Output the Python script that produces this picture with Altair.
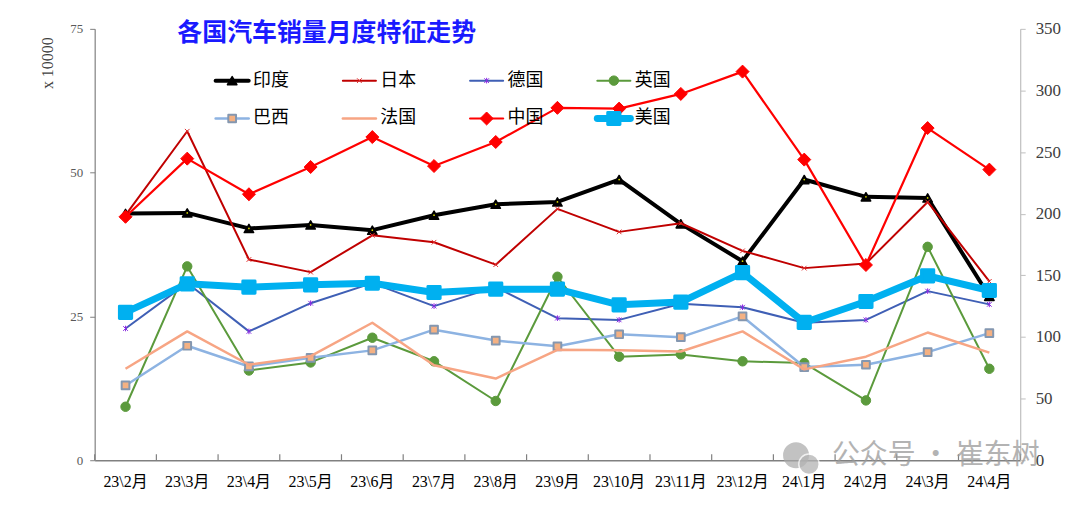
import altair as alt
import pandas as pd

months = ["23\\2月", "23\\3月", "23\\4月", "23\\5月", "23\\6月", "23\\7月", "23\\8月",
          "23\\9月", "23\\10月", "23\\11月", "23\\12月", "24\\1月", "24\\2月", "24\\3月", "24\\4月"]

india   = [42.9, 43.0, 40.3, 40.9, 40.0, 42.6, 44.5, 44.9, 48.8, 41.1, 34.6, 48.8, 45.8, 45.6, 28.5]
japan   = [42.6, 57.2, 34.9, 32.7, 39.1, 37.9, 34.0, 43.7, 39.7, 41.2, 36.4, 33.4, 34.2, 44.9, 31.1]
germany = [22.9, 30.8, 22.4, 27.3, 30.8, 26.8, 30.1, 24.7, 24.4, 27.2, 26.6, 23.9, 24.4, 29.4, 27.1]
uk      = [9.3, 33.7, 15.6, 17.0, 21.3, 17.2, 10.3, 31.9, 18.0, 18.4, 17.2, 16.9, 10.4, 37.1, 15.9]
brazil  = [13.0, 19.9, 16.3, 17.8, 19.1, 22.7, 20.8, 19.8, 21.9, 21.4, 25.0, 16.2, 16.6, 18.8, 22.1]
france  = [15.9, 22.4, 16.6, 18.1, 23.9, 16.5, 14.2, 19.2, 19.1, 18.9, 22.4, 15.8, 18.0, 22.2, 18.7]
china   = [197.5, 244.7, 215.8, 237.9, 262.2, 238.7, 258.2, 285.9, 285.3, 297.2, 315.3, 243.9, 158.4, 269.5, 235.8]
usa     = [119.9, 143.1, 140.4, 142.3, 143.6, 136.1, 138.8, 138.8, 126.1, 128.3, 152.2, 111.8, 128.8, 149.6, 137.7]

left_names = ["印度", "日本", "德国", "英国", "巴西", "法国"]
right_names = ["中国", "美国"]
legend_order = ["印度", "日本", "德国", "英国", "巴西", "法国", "中国", "美国"]
series = {"印度": india, "日本": japan, "德国": germany, "英国": uk,
          "巴西": brazil, "法国": france, "中国": china, "美国": usa}
title_text = "各国汽车销量月度特征走势"
watermark_text = "公众号 · 崔东树"

rows = []
for name, vals in series.items():
    for m, v in zip(months, vals):
        rows.append({"series": name, "month": m, "value": v})
df = pd.DataFrame(rows)
leg_df = pd.DataFrame({"name": legend_order})
month_df = pd.DataFrame({"month": months})

XSHAPE = "M-1,-1L1,1M1,-1L-1,1"
STAR = "M-1,-1L1,1M1,-1L-1,1M0,-1.2L0,1.2"
styles = {
    "印度": dict(color="#000000", width=4, shape="triangle-up", size=90, fill="#000000", stroke="#000000", sw=1.5, filled=True),
    "日本": dict(color="#C00000", width=2, shape=XSHAPE, size=22, fill=None, stroke="#E03030", sw=1, filled=False),
    "德国": dict(color="#3F5FB5", width=2, shape=STAR, size=22, fill=None, stroke="#8A2BE2", sw=1, filled=False),
    "英国": dict(color="#5B9A3C", width=2, shape="circle", size=90, fill="#5B9A3C", stroke="#5B9A3C", sw=1, filled=True),
    "巴西": dict(color="#8DB3E2", width=2.5, shape="square", size=60, fill="#F4B183", stroke="#8497B0", sw=2, filled=True),
    "法国": dict(color="#F7A584", width=2.5, shape=None),
    "中国": dict(color="#FF0000", width=2.2, shape="diamond", size=170, fill="#FF0000", stroke="#FF0000", sw=1, filled=True),
    "美国": dict(color="#00B0F0", width=7, shape="square", size=150, fill="#00B0F0", stroke="#00B0F0", sw=3, filled=True),
}

FONT = "Liberation Serif, Noto Sans CJK SC"
xscale = alt.Scale(type="band", paddingInner=0, paddingOuter=0)
x_axis = alt.Axis(orient="bottom", title=None, labelAngle=0, labelFont=FONT,
                  labelFontSize=16, labelColor="#000000", ticks=False, tickSize=0,
                  labelPadding=13, domainColor="#808080", domainWidth=1.5, grid=False)
x_main = alt.X("month:N", sort=months, scale=xscale, axis=x_axis)
x_right = alt.X("month:N", sort=months, scale=xscale, axis=None)
y_left = alt.Y("value:Q", scale=alt.Scale(domain=[0, 75], nice=False),
               axis=alt.Axis(orient="left", values=[0, 25, 50, 75], title="x 10000",
                             titleFont=FONT, titleFontSize=16, titleFontWeight="normal",
                             titleColor="#404040", titleAngle=270, titleX=-47, titleY=34,
                             titleAlign="center", titleBaseline="middle", labelFont=FONT,
                             labelFontSize=13, labelColor="#595959", tickSize=5,
                             tickColor="#808080", domainColor="#808080", domainWidth=1.2,
                             labelPadding=7, grid=False))
y_right = alt.Y("value:Q", scale=alt.Scale(domain=[0, 350], nice=False),
                axis=alt.Axis(orient="right", values=list(range(0, 351, 50)), title="x 10000",
                              titleFont=FONT, titleFontSize=16, titleFontWeight="normal",
                              titleColor="#404040", titleAngle=90, titleX=59, titleY=34,
                              titleAlign="center", titleBaseline="middle", labelFont=FONT,
                              labelFontSize=17, labelColor="#404040", tickSize=5,
                              tickColor="#BFBFBF", domainColor="#BFBFBF", domainWidth=1.2,
                              labelPadding=10, grid=False))


def series_layers(name, xenc, yenc):
    st = styles[name]
    base = alt.Chart(df).transform_filter(alt.datum.series == name)
    out = [base.mark_line(color=st["color"], strokeWidth=st["width"], strokeJoin="round")
           .encode(x=xenc, y=yenc)]
    if st.get("shape"):
        kw = dict(shape=st["shape"], size=st["size"], stroke=st["stroke"],
                  strokeWidth=st["sw"], filled=st["filled"], opacity=1, strokeJoin="round")
        if st["fill"]:
            kw["fill"] = st["fill"]
        out.append(base.mark_point(**kw).encode(x=xenc, y=yenc))
    if name == "印度":
        out.append(base.mark_point(shape="circle", size=3, filled=True, color="#D8D800", opacity=1)
                   .encode(x=xenc, y=yenc))
    return out


# category-boundary ticks on the x axis, pointing up into the plot (Excel style)
tick_layers = [
    alt.Chart(month_df).mark_rule(color="#808080", strokeWidth=1.2)
    .encode(x=alt.X("month:N", sort=months, scale=xscale, axis=x_axis, bandPosition=0),
            y=alt.value(427), y2=alt.value(433)),
    alt.Chart(month_df).transform_filter(alt.datum.month == months[-1])
    .mark_rule(color="#808080", strokeWidth=1.2)
    .encode(x=alt.X("month:N", sort=months, scale=xscale, axis=x_axis, bandPosition=1),
            y=alt.value(427), y2=alt.value(433)),
]

left_layers = list(tick_layers)
for n in left_names:
    left_layers += series_layers(n, x_main, y_left)
right_layers = []
for n in right_names:
    right_layers += series_layers(n, x_right, y_right)

left_group = alt.layer(*left_layers)
right_group = alt.layer(*right_layers)

lxs = alt.Scale(domain=[-1.0807, 6.194], nice=False, zero=False)
lys = alt.Scale(domain=[-1.368, 10.026], nice=False, zero=False, reverse=True)
LX = alt.X("col:Q", scale=lxs, axis=None)
LY = alt.Y("row:Q", scale=lys, axis=None)

leg_layers = []
for n in legend_order:
    st = styles[n]
    b = (alt.Chart(leg_df)
         .transform_window(idx="row_number()")
         .transform_calculate(col="(datum.idx - 1) % 4", row="floor((datum.idx - 1) / 4)",
                              x0="datum.col - 0.13", x1="datum.col + 0.13")
         .transform_filter(alt.datum.name == n))
    leg_layers.append(b.mark_rule(color=st["color"], strokeWidth=st["width"], strokeCap="round")
                      .encode(x=alt.X("x0:Q", scale=lxs, axis=None), x2="x1:Q", y=LY))
    if st.get("shape"):
        kw = dict(shape=st["shape"], size=st["size"], stroke=st["stroke"],
                  strokeWidth=st["sw"], filled=st["filled"], opacity=1, strokeJoin="round")
        if st["fill"]:
            kw["fill"] = st["fill"]
        leg_layers.append(b.mark_point(**kw).encode(x=LX, y=LY))
    leg_layers.append(b.mark_text(align="left", baseline="middle", dx=21, font=FONT,
                                  fontSize=18, color="#000000")
                      .encode(x=LX, y=LY, text="name:N"))

# chart title (drawn inside the top of the plot area, as in the reference)
title_mark = (alt.Chart(pd.DataFrame({"t": [title_text]}))
              .mark_text(align="left", baseline="middle", font="Noto Sans CJK SC", fontSize=25,
                         fontWeight="bold", color="#1A1AFF")
              .encode(x=alt.value(83), y=alt.value(4), text="t:N"))
leg_layers.append(title_mark)

# watermark
wm_icon = pd.DataFrame({"k": [0, 1]})
leg_layers.append(alt.Chart(wm_icon).transform_filter(alt.datum.k == 0)
                  .mark_point(shape="circle", filled=True, size=680, color="#A8A8A8", opacity=0.7)
                  .encode(x=alt.value(704), y=alt.value(428)))
leg_layers.append(alt.Chart(wm_icon).transform_filter(alt.datum.k == 1)
                  .mark_point(shape="circle", filled=True, size=420, color="#B4B4B4", opacity=0.75,
                              stroke="white", strokeWidth=1.5)
                  .encode(x=alt.value(717), y=alt.value(437)))
leg_layers.append(alt.Chart(pd.DataFrame({"t": [watermark_text]}))
                  .mark_text(align="left", baseline="middle", font="Noto Sans CJK SC",
                             fontSize=28, color="#9A9A9A", opacity=0.75)
                  .encode(x=alt.value(740), y=alt.value(429), text="t:N"))
legend_group = alt.layer(*leg_layers)

chart = (alt.layer(left_group, right_group, legend_group)
         .resolve_scale(x="independent", y="independent")
         .properties(width=929, height=433,
                     padding={"left": 87, "top": 20, "right": 52, "bottom": 40},
                     autosize=alt.AutoSizeParams(type="none"))
         .configure_view(stroke=None))

chart.save("out.html", embed_options={"renderer": "svg", "actions": False})
